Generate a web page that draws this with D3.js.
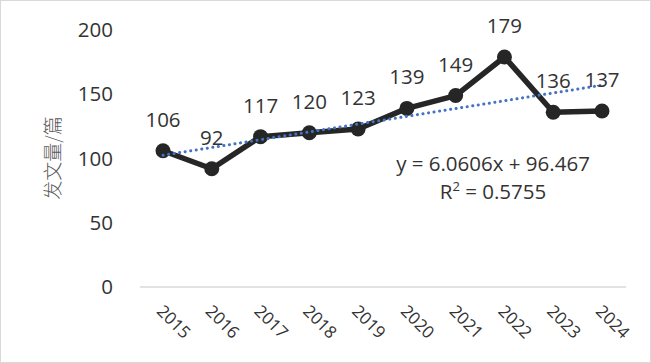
<!DOCTYPE html>
<html>
<head>
<meta charset="utf-8">
<script src="https://cdn.jsdelivr.net/npm/d3@7"></script>
<style>
  body { margin: 0; background: #fff; }
  svg { display: block; }
</style>
</head>
<body>
<svg id="chart" width="651" height="363"></svg>
<script>
const years = ['2015', '2016', '2017', '2018', '2019', '2020', '2021', '2022', '2023', '2024'];
const counts = [106, 92, 117, 120, 123, 139, 149, 179, 136, 137];
const yTicks = [0, 50, 100, 150, 200];
const trendSlope = 6.0606, trendIntercept = 96.467;
const equationText = 'y = 6.0606x + 96.467';
const yTitle = '发文量/篇';

const svg = d3.select('#chart');
const W = 651, H = 363;
const font = "'Open Sans', 'Liberation Sans', sans-serif";
const ink = '#333';

svg.append('rect')
    .attr('x', 0.5).attr('y', 0.5)
    .attr('width', W - 1).attr('height', H - 1)
    .attr('fill', '#fff').attr('stroke', '#d9d9d9');

const x = d3.scalePoint().domain(years).range([163, 602]);
const y = d3.scaleLinear().domain([0, 200]).range([287, 30]);

// baseline
svg.append('line')
    .attr('x1', 140).attr('x2', 626)
    .attr('y1', y(0)).attr('y2', y(0))
    .attr('stroke', '#d9d9d9').attr('stroke-width', 1.5);

// y tick labels
svg.append('g').selectAll('text')
    .data(yTicks).join('text')
    .attr('x', 113).attr('y', d => y(d))
    .attr('dy', '0.35em')
    .attr('text-anchor', 'end')
    .attr('font-family', font).attr('font-size', 20.5)
    .attr('fill', ink)
    .text(d => d);

// x tick labels, rotated
svg.append('g').selectAll('text')
    .data(years).join('text')
    .attr('transform', d => `translate(${x(d) - 3},${308}) rotate(45)`)
    .attr('font-family', font).attr('font-size', 17)
    .attr('fill', ink)
    .attr('dy', '0.35em')
    .text(d => d);

// y title
svg.append('text')
    .attr('transform', `translate(53,158) rotate(-90)`)
    .attr('text-anchor', 'middle').attr('dy', '0.35em')
    .attr('font-family', "'Noto Sans CJK SC', sans-serif").attr('font-size', 19)
    .attr('font-weight', 300)
    .attr('fill', '#595959')
    .text(yTitle);

// data line
const line = d3.line().x((d, i) => x(years[i])).y(d => y(d));
svg.append('path')
    .datum(counts)
    .attr('d', line)
    .attr('fill', 'none')
    .attr('stroke', '#262626').attr('stroke-width', 5.5)
    .attr('stroke-linejoin', 'round');

svg.append('g').selectAll('circle')
    .data(counts).join('circle')
    .attr('cx', (d, i) => x(years[i])).attr('cy', d => y(d))
    .attr('r', 7.5).attr('fill', '#262626');

// trend line
const trend = [years[0], years[years.length - 1]].map(yr => {
    const k = years.indexOf(yr) + 1;
    return [x(yr), y(trendSlope * k + trendIntercept)];
});
svg.append('line')
    .attr('x1', trend[0][0]).attr('y1', trend[0][1])
    .attr('x2', trend[1][0]).attr('y2', trend[1][1])
    .attr('stroke', '#4472c4').attr('stroke-width', 3)
    .attr('stroke-linecap', 'round')
    .attr('stroke-dasharray', '0.1 5.5');

// data labels
svg.append('g').selectAll('text')
    .data(counts).join('text')
    .attr('x', (d, i) => x(years[i])).attr('y', d => y(d) - 24)
    .attr('text-anchor', 'middle')
    .attr('font-family', font).attr('font-size', 20.5)
    .attr('fill', ink)
    .text(d => d);

// equation
const eq = svg.append('text')
    .attr('text-anchor', 'middle')
    .attr('font-family', font).attr('font-size', 20.5)
    .attr('fill', ink);
eq.append('tspan').attr('x', 493).attr('y', 171).text(equationText);
const r2 = eq.append('tspan').attr('x', 493).attr('y', 199);
r2.append('tspan').text('R');
r2.append('tspan').attr('dy', -8).attr('font-size', 13).text('2');
r2.append('tspan').attr('dy', 8).text(' = 0.5755');
</script>
</body>
</html>
